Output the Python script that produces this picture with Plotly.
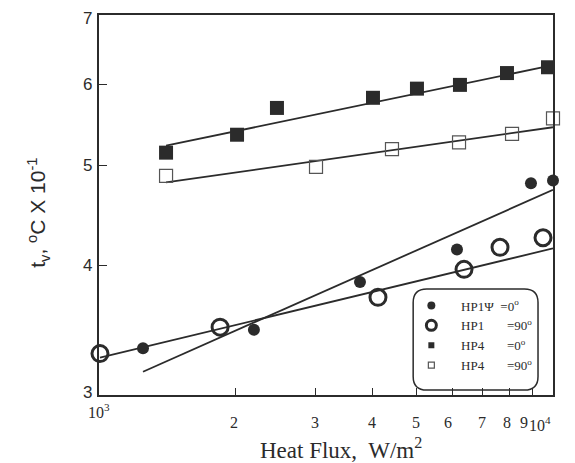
import math
import plotly.graph_objects as go

# ---- data (heat flux W/m^2, t_v in degC x 10^-1) ----
hp1_0_q = [1250, 2194, 3757, 6145, 8943, 10000]
hp1_0_t = [3.33, 3.47, 3.86, 4.15, 4.81, 4.84]

hp1_90_q = [1005, 1848, 4116, 6368, 7643, 9506]
hp1_90_t = [3.29, 3.49, 3.73, 3.97, 4.17, 4.26]

hp4_0_q = [1405, 2014, 2466, 4013, 5016, 6238, 7918, 9750]
hp4_0_t = [5.15, 5.36, 5.69, 5.82, 5.94, 5.99, 6.15, 6.23]

hp4_90_q = [1405, 3006, 4419, 6209, 8124, 10000]
hp4_90_t = [4.89, 4.99, 5.19, 5.27, 5.37, 5.56]

# fitted lines (end points)
fit_hp1_0_q = [1250, 10000]
fit_hp1_0_t = [3.16, 4.74]
fit_hp1_90_q = [1005, 10000]
fit_hp1_90_t = [3.26, 4.16]
fit_hp4_0_q = [1405, 10000]
fit_hp4_0_t = [5.23, 6.26]
fit_hp4_90_q = [1405, 10000]
fit_hp4_90_t = [4.82, 5.45]

x_tick_vals = [1000, 2000, 3000, 4000, 5000, 6000, 7000, 8000, 9000, 10000]
x_tick_text = ["10<sup>3</sup>", "2", "3", "4", "5", "6", "7", "8", "9", "10<sup>4</sup>"]
y_tick_vals = [3, 4, 5, 6, 7]
y_tick_text = ["3", "4", "5", "6", "7"]

NB = "&nbsp;"
legend_names = [NB * 3 + "HP1Ψ" + NB * 2 + "=0<sup>o</sup>",
                NB * 3 + "HP1" + NB * 7 + "=90<sup>o</sup>",
                NB * 3 + "HP4" + NB * 7 + "=0<sup>o</sup>",
                NB * 3 + "HP4" + NB * 7 + "=90<sup>o</sup>"]

INK = "#2b2b2b"
SERIF = "Liberation Serif, Times New Roman, serif"
SANS = "Liberation Sans, Arial, sans-serif"
fig = go.Figure()

# fitted lines
for q, t in [(fit_hp1_0_q, fit_hp1_0_t), (fit_hp1_90_q, fit_hp1_90_t),
             (fit_hp4_0_q, fit_hp4_0_t), (fit_hp4_90_q, fit_hp4_90_t)]:
    fig.add_trace(go.Scatter(x=q, y=t, mode="lines", line=dict(color=INK, width=1.8),
                             showlegend=False, hoverinfo="skip"))

styles = [
    dict(symbol="circle", size=12, color=INK, line=dict(width=0)),
    dict(symbol="circle-open", size=16, color=INK, line=dict(width=3, color=INK)),
    dict(symbol="square", size=14, color=INK, line=dict(width=0)),
    dict(symbol="square-open", size=13, color="#555", line=dict(width=1.2, color="#555")),
]
legend_styles = [
    dict(symbol="circle", size=8, color=INK),
    dict(symbol="circle-open", size=10, color=INK, line=dict(width=3, color=INK)),
    dict(symbol="square", size=6, color=INK),
    dict(symbol="square-open", size=6, color="#555", line=dict(width=1.2, color="#555")),
]
series = [(hp1_0_q, hp1_0_t), (hp1_90_q, hp1_90_t), (hp4_0_q, hp4_0_t), (hp4_90_q, hp4_90_t)]
for (q, t), st in zip(series, styles):
    fig.add_trace(go.Scatter(x=q, y=t, mode="markers", marker=st, showlegend=False, cliponaxis=False))
for name, st in zip(legend_names, legend_styles):
    fig.add_trace(go.Scatter(x=[None], y=[None], mode="markers", marker=st, name=name, showlegend=True))

# x tick labels as annotations (10^3 sits higher than the rest; 9 and 10^4 are pulled left)
label_xshift = [0, -2, -1, 0, 0, -4, -1, -2, -8, 0]
for i, (v, txt) in enumerate(zip(x_tick_vals, x_tick_text)):
    first = i == 0
    last = i == len(x_tick_vals) - 1
    fig.add_annotation(x=math.log10(v), y=-0.01 if first else -0.045, xref="x", yref="paper",
                       text=txt, showarrow=False, yanchor="top",
                       xanchor="right" if last else "center", xshift=label_xshift[i],
                       font=dict(family=SERIF, size=16, color=INK))

# y tick labels as annotations (top one nudged down so it stays on the page)
label_yshift = [3, 0, 0, 0, -3]
for v, txt, dy in zip(y_tick_vals, y_tick_text, label_yshift):
    fig.add_annotation(x=0, y=math.log10(v), xref="paper", yref="y", text=txt, showarrow=False,
                       xanchor="right", yanchor="middle", xshift=-5, yshift=dy,
                       font=dict(family=SANS, size=17, color=INK))

# axis titles
fig.add_annotation(x=0.533, y=-0.097, xref="paper", yref="paper", yanchor="top",
                   text="Heat Flux,  W/m<sup>2</sup>", showarrow=False,
                   font=dict(family=SERIF, size=23, color=INK))
fig.add_annotation(x=-0.134, y=0.48, xref="paper", yref="paper", textangle=-90,
                   xanchor="center", yanchor="middle",
                   text="t<sub>v</sub>, <sup>o</sup>C X 10<sup>-1</sup>", showarrow=False,
                   font=dict(family=SANS, size=21, color=INK))

# rounded legend box
x0, x1, y0, y1, r = 0.692, 0.967, 0.013, 0.279, 0.03
ry = r * 454 / 380
fig.add_shape(type="path", xref="paper", yref="paper",
              path=(f"M {x0+r},{y0} L {x1-r},{y0} Q {x1},{y0} {x1},{y0+ry} L {x1},{y1-ry} "
                    f"Q {x1},{y1} {x1-r},{y1} L {x0+r},{y1} Q {x0},{y1} {x0},{y1-ry} "
                    f"L {x0},{y0+ry} Q {x0},{y0} {x0+r},{y0} Z"),
              line=dict(color=INK, width=1.5))

# page body has an 8px margin: figure is offset so the plot lands where the reference has it
fig.update_layout(
    width=559, height=455,
    margin=dict(l=91, r=14, t=7, b=68, autoexpand=False),
    paper_bgcolor="white", plot_bgcolor="white",
    legend=dict(x=0.688, y=0.275, xanchor="left", yanchor="top", bgcolor="rgba(0,0,0,0)",
                borderwidth=0, itemsizing="trace",
                font=dict(family=SERIF, size=13, color=INK)),
    xaxis=dict(type="log", range=[3, 4], tickvals=x_tick_vals, showticklabels=False, automargin=False,
               ticks="inside", ticklen=7, tickwidth=1.3, tickcolor=INK,
               showgrid=False, zeroline=False, showline=True, linecolor=INK, linewidth=1.8, mirror=True),
    yaxis=dict(type="log", range=[math.log10(3), math.log10(7)], tickvals=y_tick_vals,
               showticklabels=False, automargin=False,
               ticks="inside", ticklen=8, tickwidth=1.3, tickcolor=INK,
               showgrid=False, zeroline=False, showline=True, linecolor=INK, linewidth=1.8, mirror=True),
)

fig.write_html("out.html")
